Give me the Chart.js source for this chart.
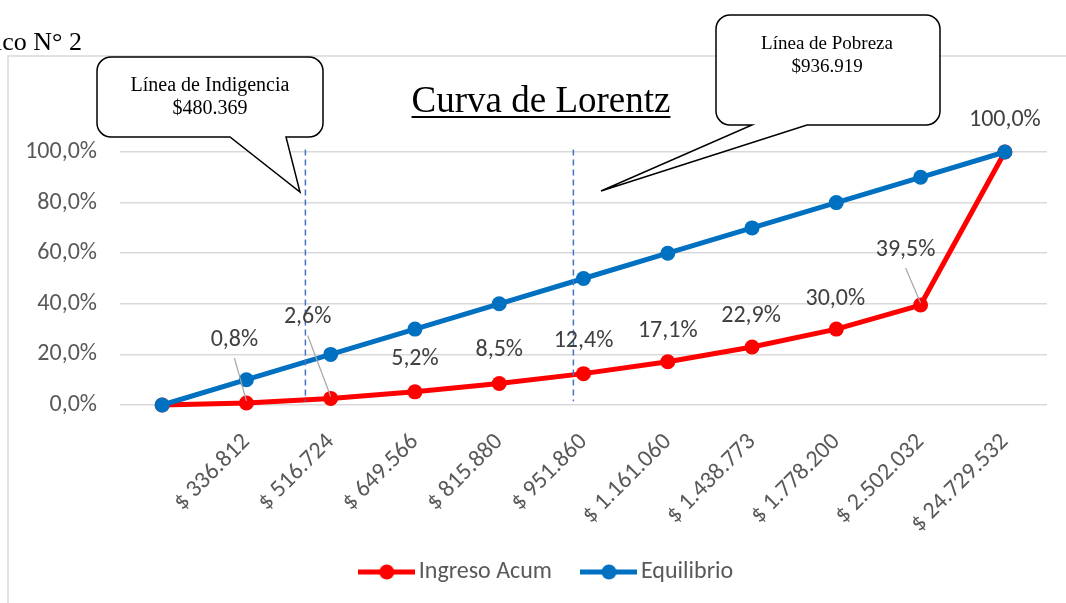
<!DOCTYPE html>
<html>

<head>
    <meta charset="utf-8">
    <title>Curva de Lorentz</title>
    <style>
        body { margin: 0; background: #ffffff; }
    </style>
</head>

<body>
    <canvas id="myChart" width="1066" height="603"></canvas>

    <script src="https://cdn.jsdelivr.net/npm/chart.js@4.4.1/dist/chart.umd.min.js"></script>
    <script type="text/javascript">
        // datos
        const categorias = ['', '$ 336.812', '$ 516.724', '$ 649.566', '$ 815.880', '$ 951.860',
            '$ 1.161.060', '$ 1.438.773', '$ 1.778.200', '$ 2.502.032', '$ 24.729.532'];
        const ingresoAcum = [0, 0.8, 2.6, 5.2, 8.5, 12.4, 17.1, 22.9, 30.0, 39.5, 100.0];
        const equilibrio = [0, 10, 20, 30, 40, 50, 60, 70, 80, 90, 100];
        const yTicks = [0, 20, 40, 60, 80, 100];

        // lineas de indigencia / pobreza (posicion en el eje de categorias)
        const lineasGuia = [1.70, 4.88];

        // desplazamiento de las etiquetas de datos (px) y si llevan linea guia
        const etiqDx = [0, -12, -23, 0, 0, 0, 0, -1, -1, -15, 0];
        const etiqDy = [0, -63, -81, -33, -33, -33, -31, -31, -30, -55, -32];
        const conGuia = [false, true, true, false, false, false, false, false, false, true, false];

        const fuente = "Carlito, Lato, 'Open Sans', sans-serif";
        const serif = "'Liberation Serif', 'DejaVu Serif', serif";
        const gris = '#595959';

        function pct(v) {
            return v.toFixed(1).replace('.', ',') + '%';
        }

        function marcaLeyenda(color) {
            const c = document.createElement('canvas');
            c.width = 57;
            c.height = 16;
            const g = c.getContext('2d');
            g.strokeStyle = color;
            g.lineWidth = 5;
            g.beginPath();
            g.moveTo(0, 8);
            g.lineTo(57, 8);
            g.stroke();
            g.fillStyle = color;
            g.beginPath();
            g.arc(28.5, 8, 7.5, 0, Math.PI * 2);
            g.fill();
            return c;
        }
        const marcas = [marcaLeyenda('#FF0000'), marcaLeyenda('#0070C0')];

        function globo(ctx, x, y, w, h, r, p1, p2, tx, ty) {
            ctx.beginPath();
            ctx.moveTo(x + r, y);
            ctx.lineTo(x + w - r, y);
            ctx.arcTo(x + w, y, x + w, y + r, r);
            ctx.lineTo(x + w, y + h - r);
            ctx.arcTo(x + w, y + h, x + w - r, y + h, r);
            ctx.lineTo(p2, y + h);
            ctx.lineTo(tx, ty);
            ctx.lineTo(p1, y + h);
            ctx.lineTo(x + r, y + h);
            ctx.arcTo(x, y + h, x, y + h - r, r);
            ctx.lineTo(x, y + r);
            ctx.arcTo(x, y, x + r, y, r);
            ctx.closePath();
            ctx.fillStyle = '#ffffff';
            ctx.fill();
            ctx.strokeStyle = '#000000';
            ctx.lineWidth = 1.5;
            ctx.stroke();
        }

        const extras = {
            id: 'extras',
            afterLayout(chart) {
                // correr la leyenda un poco a la derecha
                if (chart.legend) chart.legend.left += 53;
                // que no se recorte la ultima etiqueta del eje x
                chart.scales.x.bottom += 25;
            },
            beforeDraw(chart) {
                const ctx = chart.ctx;
                ctx.save();
                ctx.fillStyle = '#ffffff';
                ctx.fillRect(0, 0, chart.width, chart.height);
                // marco
                ctx.strokeStyle = '#d9d9d9';
                ctx.lineWidth = 1.5;
                ctx.beginPath();
                ctx.moveTo(8, chart.height);
                ctx.lineTo(8, 56);
                ctx.lineTo(chart.width, 56);
                ctx.stroke();
                // encabezado cortado
                ctx.fillStyle = '#000000';
                ctx.font = '26px ' + serif;
                ctx.textAlign = 'right';
                ctx.textBaseline = 'alphabetic';
                ctx.fillText('Gráfico N° 2', 82, 50);
                // titulo
                ctx.font = '37px ' + serif;
                ctx.textAlign = 'center';
                ctx.fillText('Curva de Lorentz', 541, 112);
                const w = ctx.measureText('Curva de Lorentz').width;
                ctx.lineWidth = 2;
                ctx.strokeStyle = '#000000';
                ctx.beginPath();
                ctx.moveTo(541 - w / 2, 117);
                ctx.lineTo(541 + w / 2, 117);
                ctx.stroke();
                ctx.restore();
            },
            afterDatasetsDraw(chart) {
                const ctx = chart.ctx;
                const xs = chart.scales.x;
                const ys = chart.scales.y;
                ctx.save();

                // lineas punteadas
                ctx.strokeStyle = '#4472C4';
                ctx.lineWidth = 1.5;
                ctx.setLineDash([6, 4]);
                lineasGuia.forEach(v => {
                    const px = xs.getPixelForValue(v);
                    ctx.beginPath();
                    ctx.moveTo(px, ys.getPixelForValue(101));
                    ctx.lineTo(px, ys.getPixelForValue(1.5));
                    ctx.stroke();
                });
                ctx.setLineDash([]);

                // etiquetas de datos
                const meta = chart.getDatasetMeta(0);
                ctx.font = '24px ' + fuente;
                ctx.textAlign = 'center';
                ctx.textBaseline = 'middle';
                meta.data.forEach((pt, i) => {
                    if (i === 0) return;
                    const lx = pt.x + etiqDx[i];
                    const ly = pt.y + etiqDy[i];
                    if (conGuia[i]) {
                        ctx.strokeStyle = '#a6a6a6';
                        ctx.lineWidth = 1.2;
                        ctx.beginPath();
                        ctx.moveTo(lx, ly + 18);
                        ctx.lineTo(pt.x, pt.y - 2);
                        ctx.stroke();
                    }
                    ctx.fillStyle = '#404040';
                    ctx.fillText(pct(ingresoAcum[i]), lx, ly);
                });

                // globos
                globo(ctx, 97, 57, 226, 80, 14, 230, 286, 300, 192);
                globo(ctx, 716, 15, 224, 110, 14, 752, 807, 601, 191);
                ctx.fillStyle = '#000000';
                ctx.font = '20px ' + serif;
                ctx.textAlign = 'center';
                ctx.textBaseline = 'alphabetic';
                ctx.fillText('Línea de Indigencia', 210, 91);
                ctx.fillText('$480.369', 210, 114);
                ctx.font = '19px ' + serif;
                ctx.fillText('Línea de Pobreza', 827, 49);
                ctx.fillText('$936.919', 827, 72);
                ctx.restore();
            }
        };

        const ctx = document.getElementById('myChart').getContext('2d');
        const chart = new Chart(ctx, {
            type: 'line',
            data: {
                labels: categorias,
                datasets: [{
                    label: 'Ingreso Acum',
                    data: ingresoAcum,
                    borderColor: '#FF0000',
                    backgroundColor: '#FF0000',
                    borderWidth: 5,
                    pointRadius: 7.5,
                    pointBorderWidth: 0,
                    tension: 0,
                    clip: false,
                    order: 1
                }, {
                    label: 'Equilibrio',
                    data: equilibrio,
                    borderColor: '#0070C0',
                    backgroundColor: '#0070C0',
                    borderWidth: 5,
                    pointRadius: 7.5,
                    pointBorderWidth: 0,
                    tension: 0,
                    clip: false,
                    order: 0
                }]
            },
            options: {
                responsive: false,
                animation: false,
                layout: {
                    padding: { left: 0, right: 19, top: 152, bottom: 9 }
                },
                scales: {
                    x: {
                        offset: true,
                        grid: { display: false },
                        border: { display: false },
                        ticks: {
                            minRotation: 45,
                            maxRotation: 45,
                            autoSkip: false,
                            padding: 15,
                            color: gris,
                            font: { family: fuente, size: 24 }
                        },
                        afterFit(scale) { scale.height = 118; }
                    },
                    y: {
                        min: 0,
                        max: 100,
                        afterBuildTicks(scale) {
                            scale.ticks = yTicks.map(v => ({ value: v }));
                        },
                        grid: { color: '#d9d9d9', lineWidth: 1.5, drawTicks: false },
                        border: { display: false },
                        ticks: {
                            padding: 23,
                            color: gris,
                            font: { family: fuente, size: 24 },
                            callback: v => pct(v)
                        },
                        afterFit(scale) { scale.width = 120; }
                    }
                },
                plugins: {
                    tooltip: { enabled: false },
                    legend: {
                        position: 'bottom',
                        labels: {
                            usePointStyle: true,
                            pointStyleWidth: 40,
                            padding: 37,
                            color: gris,
                            font: { family: fuente, size: 24 },
                            sort: (a, b) => a.datasetIndex - b.datasetIndex,
                            generateLabels(ch) {
                                return ch.data.datasets.map((ds, i) => ({
                                    text: ds.label,
                                    pointStyle: marcas[i],
                                    fontColor: gris,
                                    lineWidth: 0,
                                    datasetIndex: i,
                                    hidden: false
                                }));
                            }
                        }
                    }
                }
            },
            plugins: [extras]
        });
    </script>
</body>

</html>
